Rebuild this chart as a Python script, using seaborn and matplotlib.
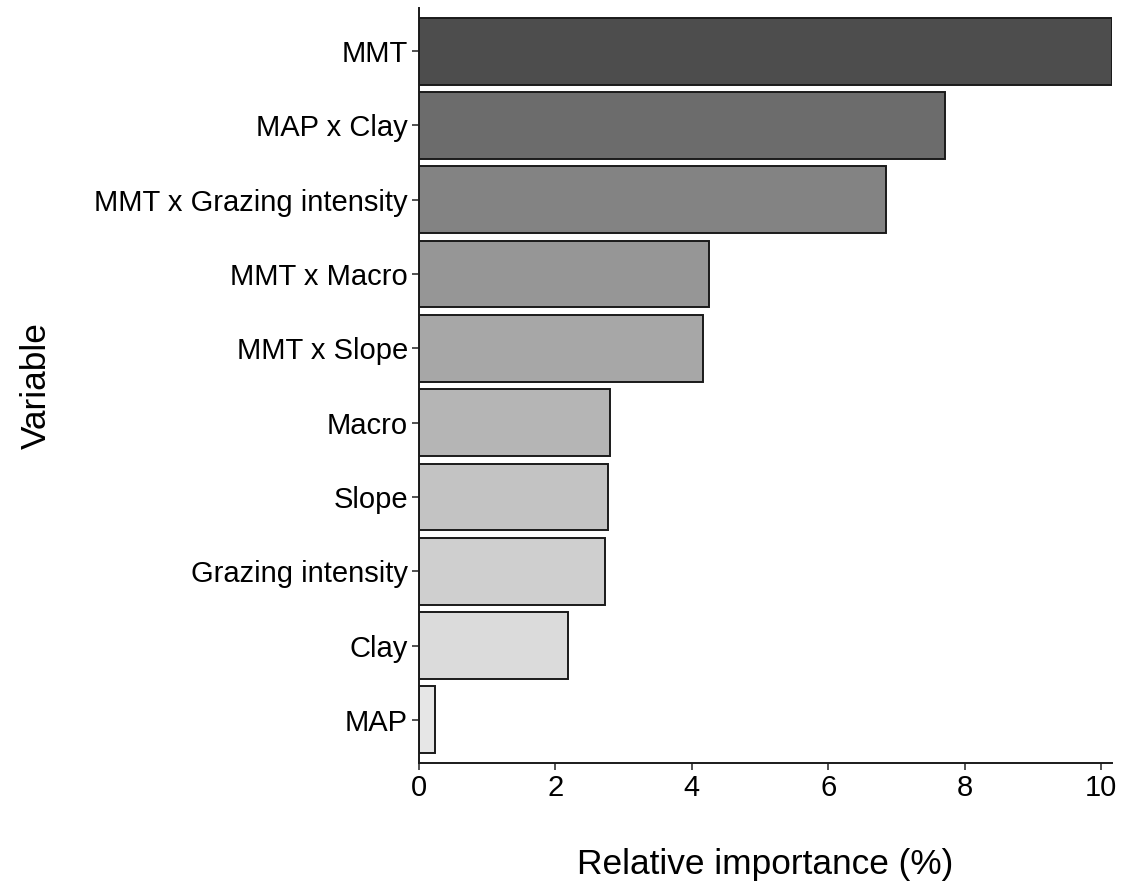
import numpy as np
import pandas as pd
import matplotlib
matplotlib.use("Agg")
import matplotlib.pyplot as plt
import seaborn as sns

# Relative importance of predictors (%)
variables = ["MMT", "MAP x Clay", "MMT x Grazing intensity", "MMT x Macro",
             "MMT x Slope", "Macro", "Slope", "Grazing intensity", "Clay", "MAP"]
importance = [10.16, 7.71, 6.84, 4.25, 4.17, 2.80, 2.77, 2.72, 2.19, 0.24]
x_ticks = [0, 2, 4, 6, 8, 10]

df = pd.DataFrame({"Variable": variables, "Importance": importance})

# grey ramp (gamma-corrected), darkest for the most important predictor
n = len(variables)
gamma = 2.2
levels = np.linspace(0.3 ** gamma, 0.9 ** gamma, n) ** (1 / gamma)
palette = [(g, g, g) for g in levels]

sns.set_theme(style="ticks")
plt.rcParams["font.family"] = ["Liberation Sans", "DejaVu Sans"]

fig = plt.figure(figsize=(11.28, 8.92), dpi=100)
ax = fig.add_axes([0.3715, 0.1446, 0.6143, 0.8464])

sns.barplot(data=df, y="Variable", x="Importance", hue="Variable",
            palette=palette, order=variables, hue_order=variables,
            orient="h", width=0.9, edgecolor="#1a1a1a", linewidth=1.4,
            legend=False, ax=ax)

ax.set_xlim(0, max(importance))
ax.set_ylim(n - 1 + 0.58, -0.58)
ax.set_xticks(x_ticks)
ax.set_xticklabels([str(t) for t in x_ticks])

for s in ["top", "right"]:
    ax.spines[s].set_visible(False)
for s in ["left", "bottom"]:
    ax.spines[s].set_color("#1a1a1a")
    ax.spines[s].set_linewidth(1.4)

ax.tick_params(axis="both", which="major", length=5, width=1.2,
               color="#333333", labelsize=21, labelcolor="black", pad=3)
ax.set_xlabel("Relative importance (%)", fontsize=25.4, color="black", labelpad=33)
ax.set_ylabel("Variable", fontsize=25.4, color="black")
ax.yaxis.set_label_coords(-0.528, 0.5)

fig.savefig("out.png", dpi=100, facecolor="white")
